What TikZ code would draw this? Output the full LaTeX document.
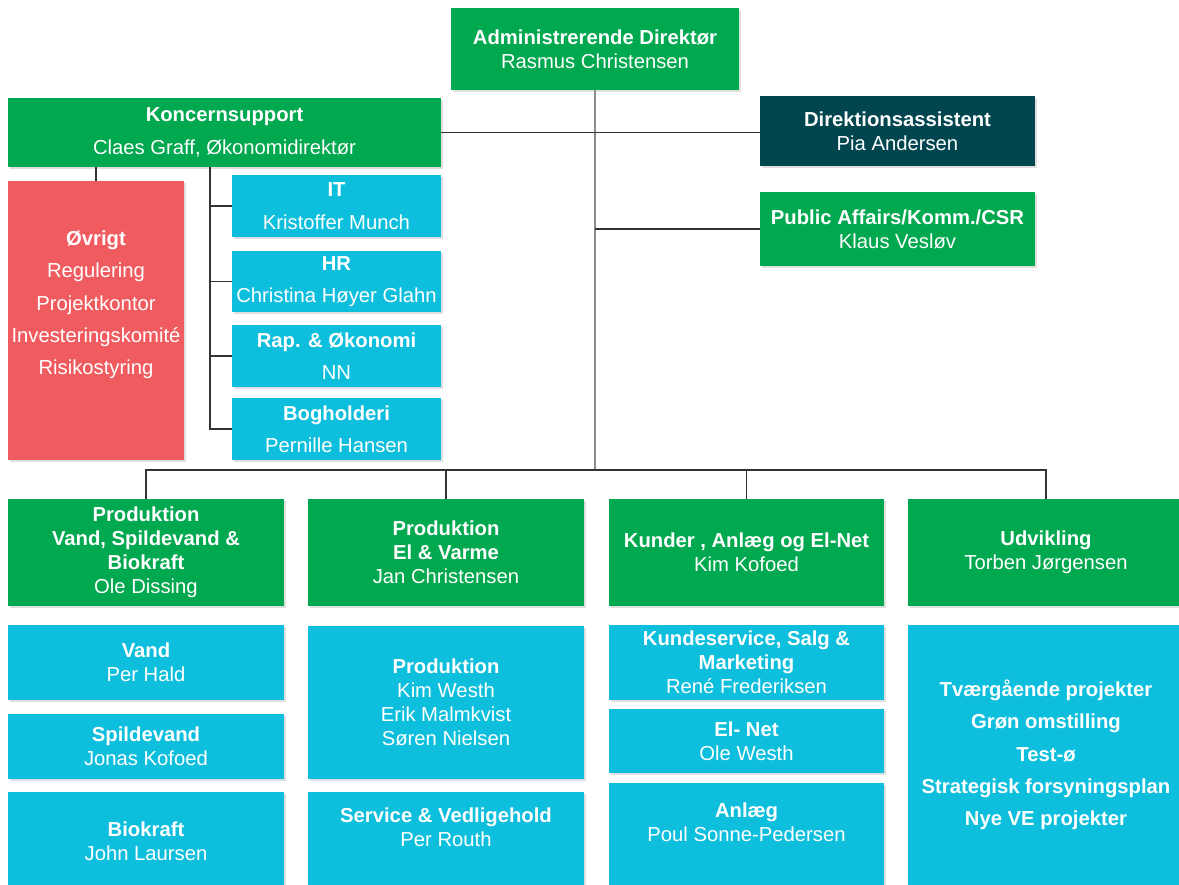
\documentclass[tikz,border=0pt]{standalone}
\usepackage{fontspec}
\setmainfont{Liberation Sans}
\usetikzlibrary{shadows}

\definecolor{orgGreen}{HTML}{00A84F}
\definecolor{orgCyan}{HTML}{0DBFDD}
\definecolor{orgRed}{HTML}{F05B5F}
\definecolor{orgDark}{HTML}{01454F}
\newcommand{\pxu}{0.025cm}

\begin{document}
\begin{tikzpicture}[x=0.025cm, y=-0.025cm,
    unit/.style={inner sep=0pt, outer sep=0pt, text=white, align=center,
        font=\fontsize{14.4}{17}\selectfont,
        drop shadow={shadow xshift=1.5pt, shadow yshift=-1.5pt, opacity=0.25}},
    loose/.style={font=\fontsize{14.4}{23}\selectfont},
    gbox/.style={unit, fill=orgGreen},
    cbox/.style={unit, fill=orgCyan},
    rbox/.style={unit, fill=orgRed},
    dbox/.style={unit, fill=orgDark},
    dims/.style 2 args={minimum width=#1*\pxu, minimum height=#2*\pxu},
    txt/.style={inner sep=0pt, text=white, align=center, font=\fontsize{14.4}{17}\selectfont},
    trunk/.style={draw=black!45, line width=1.1pt},
    link/.style={draw=black!80, line width=0.9pt}]

    \useasboundingbox (0,0) rectangle (1179,885);

    % === TOP: direktion ===
    \node[gbox, dims={288}{82}] (admin) at (595,49)
        {\textbf{Administrerende Direktør}\\Rasmus Christensen};
    \node[dbox, dims={275}{70}] (direk) at (897.5,131)
        {\textbf{Direktionsassistent}\\Pia Andersen};
    \node[gbox, dims={275}{74}] (public) at (897.5,229)
        {\textbf{Public Affairs/Komm./CSR}\\Klaus Vesløv};

    % === Koncernsupport and staff units ===
    \node[gbox, loose, dims={433}{69}] (koncern) at (224.5,132.5)
        {\textbf{Koncernsupport}\\Claes Graff, Økonomidirektør};
    \node[rbox, dims={176}{279}] (ovrigt) at (96,320.5) {};
    \node[txt, loose] (ovrigt-txt) at (96,305)
        {\textbf{Øvrigt}\\Regulering\\Projektkontor\\Investeringskomité\\Risikostyring};
    \node[cbox, loose, dims={209}{62}] (it) at (336.5,206) {\textbf{IT}\\Kristoffer Munch};
    \node[cbox, loose, dims={209}{61}] (hr) at (336.5,281.5) {\textbf{HR}\\Christina Høyer Glahn};
    \node[cbox, loose, dims={209}{62}] (rap) at (336.5,356) {\textbf{Rap. \& Økonomi}\\NN};
    \node[cbox, loose, dims={209}{62}] (bog) at (336.5,429) {\textbf{Bogholderi}\\Pernille Hansen};

    % === Divisions (green row) ===
    \node[gbox, dims={276}{107}] (prodvand) at (146,552.5)
        {\textbf{Produktion}\\\textbf{Vand, Spildevand \&}\\\textbf{Biokraft}\\Ole Dissing};
    \node[gbox, dims={276}{107}] (prodel) at (446,552.5)
        {\textbf{Produktion}\\\textbf{El \& Varme}\\Jan Christensen};
    \node[gbox, dims={275}{107}] (kunder) at (746.5,552.5)
        {\textbf{Kunder , Anlæg og El-Net}\\Kim Kofoed};
    \node[gbox, dims={276}{107}] (udv) at (1046,552.5)
        {\textbf{Udvikling}\\Torben Jørgensen};

    % === Departments (cyan) ===
    \node[cbox, dims={276}{75}] (vand) at (146,662.5) {\textbf{Vand}\\Per Hald};
    \node[cbox, dims={276}{65}] (spild) at (146,746.5) {\textbf{Spildevand}\\Jonas Kofoed};
    \node[cbox, dims={276}{98}] (bio) at (146,841) {\textbf{Biokraft}\\John Laursen};

    \node[cbox, dims={276}{153}] (prodp) at (446,702.5)
        {\textbf{Produktion}\\Kim Westh\\Erik Malmkvist\\Søren Nielsen};
    \node[cbox, dims={276}{98}] (service) at (446,841) {};
    \node[txt] (service-txt) at (446,827) {\textbf{Service \& Vedligehold}\\Per Routh};

    \node[cbox, dims={275}{75}] (kservice) at (746.5,662.5)
        {\textbf{Kundeservice, Salg \&}\\\textbf{Marketing}\\René Frederiksen};
    \node[cbox, dims={275}{64}] (elnet) at (746.5,741) {\textbf{El- Net}\\Ole Westh};
    \node[cbox, dims={275}{107}] (anlaeg) at (746.5,836.5) {};
    \node[txt] (anlaeg-txt) at (746.5,822) {\textbf{Anlæg}\\Poul Sonne-Pedersen};

    \node[cbox, dims={276}{265}] (projekter) at (1046,757.5) {};
    \node[txt, loose] (projekter-txt) at (1046,755)
        {\textbf{Tværgående projekter}\\\textbf{Grøn omstilling}\\\textbf{Test-ø}\\%
         \textbf{Strategisk forsyningsplan}\\\textbf{Nye VE projekter}};

    % === Connectors ===
    \coordinate (bus) at (598,470);
    \coordinate (kspine) at (210,167);
    \draw[trunk] (admin.south) -- (admin.south |- bus);
    \draw[link] (koncern.east) -- (koncern.east -| direk.west);
    \draw[link] (public.west) -- (public.west -| admin.south);
    \draw[link] (ovrigt.north) -- (ovrigt.north |- koncern.south);

    % staff units hang on one spine
    \draw[link] (kspine) |- (bog.west);
    \foreach \unitname in {it, hr, rap}
        \draw[link] (\unitname.west) -- (\unitname.west -| kspine);

    % division bus
    \draw[link] (prodvand.north) |- (bus) -| (udv.north);
    \draw[link] (prodel.north) -- (prodel.north |- bus);
    \draw[link] (kunder.north) -- (kunder.north |- bus);

\end{tikzpicture}
\end{document}
